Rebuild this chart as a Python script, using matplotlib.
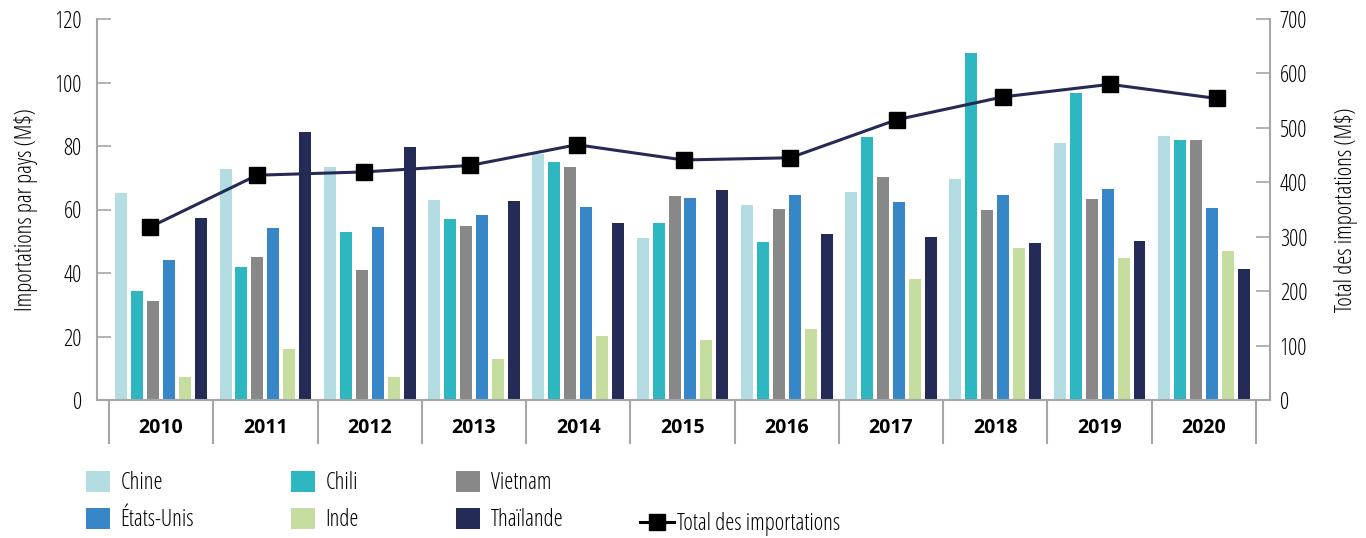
import numpy as np
import matplotlib
matplotlib.use("Agg")
import matplotlib.pyplot as plt
from matplotlib.patches import Patch
from matplotlib.lines import Line2D

plt.rcParams['font.family'] = ['Open Sans', 'DejaVu Sans']
plt.rcParams['font.stretch'] = 'condensed'

# data
years = ['2010', '2011', '2012', '2013', '2014', '2015', '2016', '2017', '2018', '2019', '2020']
chine = [65.2, 72.8, 73.4, 63.0, 77.5, 51.0, 61.4, 65.5, 69.6, 80.9, 83.1]
chili = [34.3, 41.9, 52.9, 57.0, 75.0, 55.7, 49.8, 82.8, 109.3, 96.7, 81.9]
vietnam = [31.2, 45.0, 40.9, 54.8, 73.4, 64.3, 60.2, 70.2, 59.8, 63.3, 81.9]
etats_unis = [44.1, 54.2, 54.5, 58.3, 60.8, 63.6, 64.6, 62.4, 64.6, 66.5, 60.5]
inde = [7.2, 16.1, 7.2, 12.9, 20.2, 18.9, 22.4, 38.1, 47.9, 44.7, 46.9]
thailande = [57.3, 84.4, 79.7, 62.7, 55.7, 66.1, 52.3, 51.3, 49.4, 50.1, 41.3]
total = [318, 413, 419, 431, 469, 441, 445, 515, 557, 580, 554]

series = [chine, chili, vietnam, etats_unis, inde, thailande]
names = ['Chine', 'Chili', 'Vietnam', 'États-Unis', 'Inde', 'Thaïlande']
colors = ['#b3dde3', '#2eb6c1', '#888888', '#3787c8', '#c5dd9f', '#252b57']
grey = '#a6a6a6'
fs = 16.5

fig = plt.figure(figsize=(13.66, 5.38), dpi=100)
pos = [97/1366, 1 - 400/538, (1270 - 97)/1366, (400 - 19)/538]
ax = fig.add_axes(pos)

x = np.arange(len(years))
step = 0.153
width = 0.115
for k, (vals, c) in enumerate(zip(series, colors)):
    ax.bar(x + (k - 2.5)*step, vals, width=width, color=c, zorder=2)

ax.set_xlim(-0.615, 10.634)
ax.set_ylim(0, 120)
ax.set_yticks(range(0, 121, 20))
ax.set_xticks(x)
ax.set_xticklabels(years, fontweight='bold', fontsize=14, fontstretch='normal')
ax.set_xticks(np.arange(-0.5, 11, 1), minor=True)
ax.tick_params(axis='x', which='major', length=0, pad=13)
ax.tick_params(axis='x', which='minor', length=32, width=1.5, color=grey, direction='out')
ax.tick_params(axis='y', direction='in', length=10, width=1.2, color=grey, labelsize=fs, pad=11)
for s in ['top', 'right']:
    ax.spines[s].set_visible(False)
for s in ['left', 'bottom']:
    ax.spines[s].set_color(grey)
    ax.spines[s].set_linewidth(1.5)
ax.set_ylabel('Importations par pays (M$)', fontsize=fs, labelpad=12)

# second axes for the total line (own category scale, right y axis)
ax2 = fig.add_axes(pos, facecolor='none')
ax2.plot(x, total, color='#252a55', lw=2.2, marker='s', markersize=11.5,
         markerfacecolor='black', markeredgecolor='black', zorder=3)
ax2.set_xlim(-0.5, 10.5)
ax2.set_ylim(0, 700)
ax2.set_xticks([])
ax2.yaxis.tick_right()
ax2.yaxis.set_label_position('right')
ax2.set_yticks(range(0, 701, 100))
ax2.tick_params(axis='y', direction='in', length=10, width=1.2, color=grey, labelsize=fs, pad=7)
for s in ['top', 'left', 'bottom']:
    ax2.spines[s].set_visible(False)
ax2.spines['right'].set_color(grey)
ax2.spines['right'].set_linewidth(1.5)
ax2.set_ylabel('Total des importations (M$)', fontsize=fs, labelpad=19)

# legend: bars in 3 columns (column-major fill), total line separately
order = [0, 3, 1, 4, 2, 5]
handles = [Patch(facecolor=colors[i], edgecolor='none') for i in order]
labels = [names[i] for i in order]
fig.legend(handles, labels, loc='upper left', bbox_to_anchor=(86/1366, 1 - 471/538),
           ncol=3, frameon=False, fontsize=fs, borderpad=0, borderaxespad=0,
           handlelength=1.05, handleheight=1.05, handletextpad=0.45,
           columnspacing=4.25, labelspacing=0.55)
line_h = Line2D([], [], color='black', lw=2.2, marker='s', markersize=11.5)
fig.legend([line_h], ['Total des importations'], loc='center left',
           bbox_to_anchor=(640/1366, 1 - 524/538), frameon=False, fontsize=fs,
           borderpad=0, borderaxespad=0, handlelength=1.48, handletextpad=0.15)

fig.savefig('out.png', dpi=100)
